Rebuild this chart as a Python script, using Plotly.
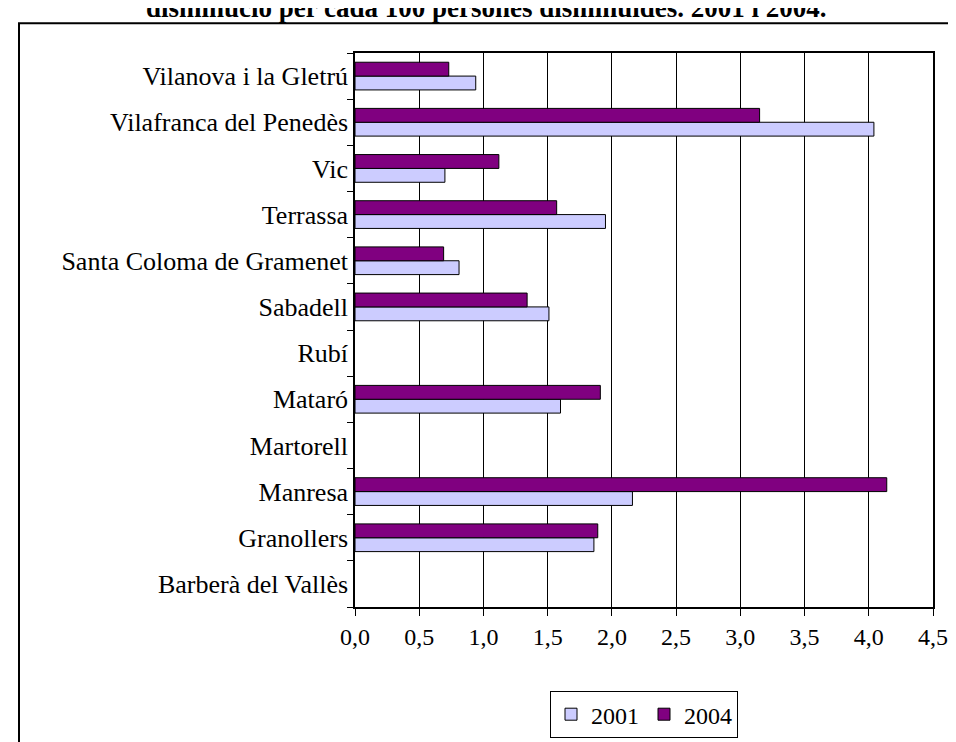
import plotly.graph_objects as go

ciutats = ["Barberà del Vallès", "Granollers", "Manresa", "Martorell", "Mataró", "Rubí",
           "Sabadell", "Santa Coloma de Gramenet", "Terrassa", "Vic",
           "Vilafranca del Penedès", "Vilanova i la Gletrú"]
v2001 = [None, 1.86, 2.16, None, 1.60, None, 1.51, 0.81, 1.95, 0.70, 4.04, 0.94]
v2004 = [None, 1.89, 4.14, None, 1.91, None, 1.34, 0.69, 1.57, 1.12, 3.15, 0.73]

W, H = 956, 742
L, R, T, B = 347, 31, 45, 137
pw, ph = W - L - R, H - T - B

def px(x):
    return (x - L) / pw

def py(y):
    return (H - B - y) / ph

serif = "Liberation Serif, Times New Roman, serif"

fig = go.Figure()
fig.add_trace(go.Bar(y=ciutats, x=v2001, name="2001", orientation="h",
                     marker=dict(color="#CCCCFF", line=dict(color="black", width=1))))
fig.add_trace(go.Bar(y=ciutats, x=v2004, name="2004", orientation="h",
                     marker=dict(color="#800080", line=dict(color="black", width=1))))

fig.update_layout(
    width=W, height=H,
    margin=dict(l=L, r=R, t=T, b=B),
    paper_bgcolor="white", plot_bgcolor="white",
    font=dict(family=serif, size=24, color="black"),
    barmode="group", bargap=0.4, bargroupgap=0,
    separators=", ",
    showlegend=True,
    legend=dict(orientation="h", x=0.5, xanchor="center", y=py(690), yanchor="top",
                bordercolor="black", borderwidth=1, font=dict(size=24),
                itemwidth=30, traceorder="normal"),
    xaxis=dict(range=[0, 4.5], dtick=0.5, tickformat=".1f", showgrid=True,
               gridcolor="black", gridwidth=1, showline=True, linecolor="black",
               linewidth=1.5, mirror=True, ticks="outside", ticklen=7,
               tickcolor="black", zeroline=False, tickfont=dict(size=24)),
    yaxis=dict(type="category", showgrid=False, showline=True, linecolor="black",
               linewidth=1.5, mirror=True, ticks="outside", ticklen=6,
               tickcolor="black", tickson="boundaries", tickfont=dict(size=26)),
    shapes=[dict(type="rect", xref="paper", yref="paper",
                 x0=px(11), x1=px(W + 20), y0=py(H + 20), y1=py(15),
                 line=dict(color="black", width=2), fillcolor="rgba(0,0,0,0)")],
    annotations=[dict(text="<b>disminució per cada 100 persones disminuïdes. 2001 i 2004.</b>",
                      xref="paper", yref="paper", x=px(478), y=py(17),
                      xanchor="center", yanchor="bottom", showarrow=False,
                      font=dict(size=27))],
)

fig.write_html("out.html")
